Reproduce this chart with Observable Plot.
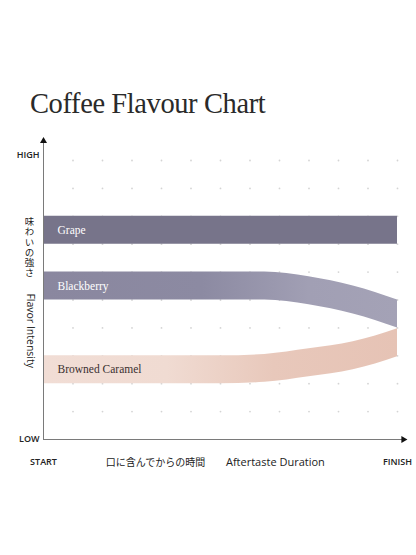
<!DOCTYPE html>
<html>
<head>
<meta charset="utf-8">
<script src="https://cdn.jsdelivr.net/npm/d3@7"></script>
<script src="https://cdn.jsdelivr.net/npm/@observablehq/plot@0.6"></script>
<style>
  html, body { margin: 0; padding: 0; background: #fff; width: 416px; height: 555px; overflow: hidden; }
  #title { position: absolute; left: 30px; top: 89px; font-family: "Liberation Serif", serif; font-size: 28.5px; line-height: 30px; color: #2a2a2a; white-space: nowrap; letter-spacing: -0.4px; }
  #chart { position: absolute; left: 0; top: 130px; }
</style>
</head>
<body>
<div id="title">Coffee Flavour Chart</div>
<div id="chart"></div>
<script>
// ---- data ----
const titleText = "Coffee Flavour Chart";
const times = [0, 6, 7.5, 9, 10.5, 12];
const grapeLow = [7, 7, 7, 7, 7, 7];
const grapeHigh = [8, 8, 8, 8, 8, 8];
const blackberryLow = [5, 5, 5, 4.83, 4.5, 4];
const blackberryHigh = [6, 6, 6, 5.83, 5.5, 5];
const caramelLow = [2, 2, 2.05, 2.25, 2.5, 2.97];
const caramelHigh = [3, 3, 3.05, 3.25, 3.5, 3.97];
const flavorNames = ["Grape", "Blackberry", "Browned Caramel"];
const gridX = [1, 2, 3, 4, 5, 6, 7, 8, 9, 10, 11, 12];
const gridY = [1, 2, 3, 4, 5, 6, 7, 8, 9, 10];
const yTickLabels = ["LOW", "HIGH"];
const yTickValues = [0, 10.2];
const xTickLabels = ["START", "FINISH"];
const xTickValues = [0, 12];
const yTitleJa = "味わいの強さ";
const yTitleEn = "Flavor Intensity";
const xTitleJa = "口に含んでからの時間";
const xTitleEn = "Aftertaste Duration";
const yAxisMax = 10.7;
const xAxisMax = 12.2;

// ---- build tables ----
const band = (lo, hi) => times.map((t, i) => ({t, lo: lo[i], hi: hi[i]}));
const grape = band(grapeLow, grapeHigh);
const blackberry = band(blackberryLow, blackberryHigh);
const caramel = band(caramelLow, caramelHigh);
const grid = gridX.flatMap(x => gridY.map(y => ({x, y})));
const bandLabels = [
  {name: flavorNames[0], y: (grapeLow[0] + grapeHigh[0]) / 2, fill: "#ffffff"},
  {name: flavorNames[1], y: (blackberryLow[0] + blackberryHigh[0]) / 2, fill: "#ffffff"},
  {name: flavorNames[2], y: (caramelLow[0] + caramelHigh[0]) / 2, fill: "#3a3030"}
];
const yTicks = yTickLabels.map((label, i) => ({label, y: yTickValues[i]}));
const xTicks = xTickLabels.map((label, i) => ({label, x: xTickValues[i], anchor: i === 0 ? "start" : "end"}));

const sans = "'Open Sans', 'Noto Sans', sans-serif";
const serif = "'Liberation Serif', serif";
const cjk = "'Noto Sans CJK JP', sans-serif";

const svg = Plot.plot({
  width: 416,
  height: 350,
  marginLeft: 43,
  marginRight: 19,
  marginTop: 30,
  marginBottom: 41,
  x: {domain: [0, 12], axis: null},
  y: {domain: [0, 10], axis: null},
  style: {background: "transparent", overflow: "visible"},
  marks: [
    Plot.dot(grid, {x: "x", y: "y", r: 0.9, fill: "#d4d4d4", stroke: null}),
    Plot.areaY(grape, {x: "t", y1: "lo", y2: "hi", fill: "#77748a", curve: "monotone-x"}),
    Plot.areaY(blackberry, {x: "t", y1: "lo", y2: "hi", fill: "url(#bbGrad)", curve: "monotone-x"}),
    Plot.areaY(caramel, {x: "t", y1: "lo", y2: "hi", fill: "url(#carGrad)", curve: "monotone-x"}),
    Plot.text(bandLabels, {x: 0, y: "y", text: "name", fill: "fill", dx: 14, textAnchor: "start", fontFamily: serif, fontSize: 11.5}),
    Plot.ruleX([0], {y1: 0, y2: yAxisMax, stroke: "#7a7a7a", strokeWidth: 1}),
    Plot.ruleY([0], {x1: 0, x2: xAxisMax, stroke: "#7a7a7a", strokeWidth: 1}),
    Plot.dot([{x: 0, y: yAxisMax}], {x: "x", y: "y", symbol: "triangle", r: 2.6, fill: "#111", stroke: null}),
    Plot.dot([{x: xAxisMax, y: 0}], {x: "x", y: "y", symbol: "triangle", r: 2.6, fill: "#111", stroke: null, rotate: 90}),
    Plot.text(yTicks, {x: 0, y: "y", text: "label", dx: -4, textAnchor: "end", fontFamily: sans, fontSize: 9, fontWeight: 600, fill: "#222"}),
    Plot.text(xTicks, {x: "x", y: 0, text: "label", textAnchor: "anchor", dy: 23, fontFamily: sans, fontSize: 9, fontWeight: 600, fill: "#222"}),
    Plot.text([yTitleJa], {x: 0, y: 7.0, text: d => d, dx: -14, fontFamily: cjk, fontSize: 9.5, fill: "#222"}),
    Plot.text([yTitleEn], {x: 0, y: 3.9, text: d => d, dx: -13, rotate: 90, fontFamily: sans, fontSize: 10.5, fill: "#222"}),
    Plot.text([xTitleJa], {x: 3.8, y: 0, text: d => d, dy: 23, fontFamily: cjk, fontSize: 10, fill: "#222"}),
    Plot.text([xTitleEn], {x: 7.86, y: 0, text: d => d, dy: 23, fontFamily: sans, fontSize: 11, fill: "#222"})
  ]
});

svg.insertAdjacentHTML("afterbegin", `
<defs>
  <linearGradient id="bbGrad" x1="0" x2="1" y1="0" y2="0">
    <stop offset="0" stop-color="#8a879f"/>
    <stop offset="0.45" stop-color="#8c8aa2"/>
    <stop offset="0.75" stop-color="#a19fb4"/>
    <stop offset="1" stop-color="#a4a2b6"/>
  </linearGradient>
  <linearGradient id="carGrad" x1="0" x2="1" y1="0" y2="0">
    <stop offset="0" stop-color="#f1ddd5"/>
    <stop offset="0.35" stop-color="#f0dbd2"/>
    <stop offset="0.65" stop-color="#e8c8bb"/>
    <stop offset="1" stop-color="#e6c3b5"/>
  </linearGradient>
</defs>`);

// vertical Japanese axis title
d3.select(svg).selectAll("text")
  .filter(function() { return this.textContent === yTitleJa; })
  .style("writing-mode", "vertical-rl")
  .style("letter-spacing", "0.6px")
  .attr("dy", null);

document.getElementById("chart").appendChild(svg);
document.getElementById("title").textContent = titleText;
</script>
</body>
</html>
